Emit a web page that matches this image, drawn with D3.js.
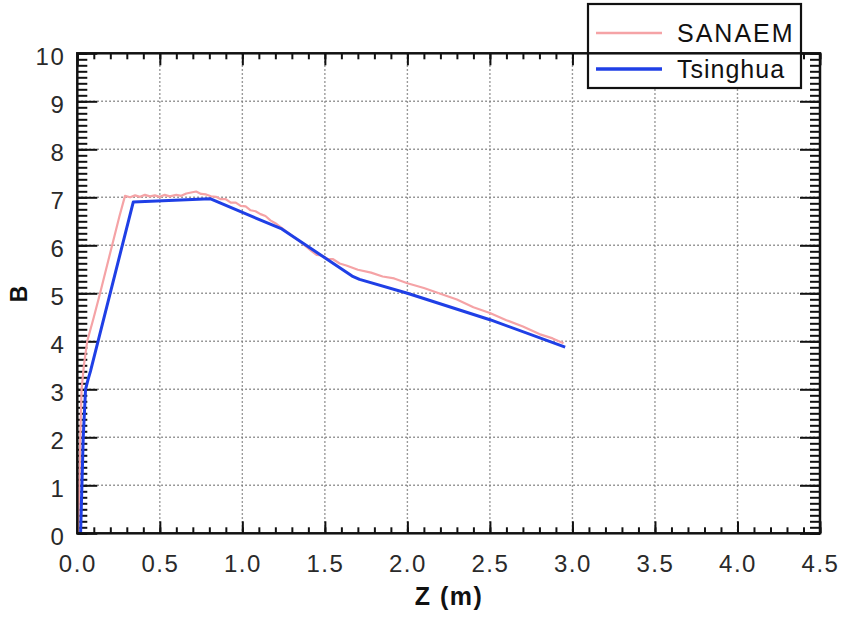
<!DOCTYPE html>
<html>
<head>
<meta charset="utf-8">
<script src="https://cdn.jsdelivr.net/npm/d3@7"></script>
<style>
  body { margin: 0; background: #fff; }
  svg text { font-family: "Liberation Sans", Arial, sans-serif; }
</style>
</head>
<body>
<div id="chart"></div>
<script>
// SANAEM curve (noisy)
const sanaem = [
  [0.005, 0], [0.012, 1], [0.018, 2], [0.026, 3], [0.04, 3.5], [0.06, 4.0],
  [0.10, 4.5], [0.138, 5.0], [0.20, 5.85], [0.255, 6.6], [0.289, 7.03],
  [0.32, 7.0], [0.35, 7.04], [0.38, 7.01], [0.41, 7.05], [0.44, 7.02],
  [0.47, 7.04], [0.50, 7.01], [0.53, 7.05], [0.56, 7.02], [0.60, 7.05],
  [0.63, 7.03], [0.66, 7.08], [0.69, 7.10], [0.72, 7.12], [0.75, 7.07],
  [0.78, 7.06], [0.81, 7.02], [0.84, 7.01], [0.87, 6.96], [0.90, 6.96],
  [0.93, 6.89], [0.96, 6.89], [0.99, 6.82], [1.02, 6.81], [1.05, 6.73],
  [1.08, 6.71], [1.11, 6.65], [1.14, 6.61], [1.17, 6.52], [1.20, 6.46],
  [1.24, 6.36], [1.30, 6.20], [1.36, 6.05], [1.42, 5.88], [1.45, 5.80],
  [1.48, 5.79], [1.52, 5.71], [1.55, 5.71], [1.59, 5.62], [1.63, 5.58],
  [1.70, 5.49], [1.78, 5.43], [1.85, 5.35], [1.92, 5.31], [2.0, 5.21],
  [2.1, 5.11], [2.2, 4.99], [2.3, 4.87], [2.4, 4.71], [2.5, 4.59],
  [2.6, 4.44], [2.7, 4.31], [2.8, 4.15], [2.88, 4.06], [2.946, 3.96]
];

// Tsinghua curve
const tsinghua = [
  [0.02, 0], [0.028, 1], [0.036, 2], [0.05, 3], [0.065, 3.2], [0.08, 3.38],
  [0.339, 6.9], [0.804, 6.97], [1.239, 6.34], [1.665, 5.36], [1.71, 5.29],
  [2.0, 5.0], [2.5, 4.45], [2.956, 3.88]
];

const seriesNames = ["SANAEM", "Tsinghua"];
const seriesColors = ["#f5a3a6", "#1f3fe6"];

const xTicks = [0, 0.5, 1, 1.5, 2, 2.5, 3, 3.5, 4, 4.5];
const yTicks = [0, 1, 2, 3, 4, 5, 6, 7, 8, 9, 10];

const width = 846, height = 619;

const x = d3.scaleLinear().domain([0, 4.5]).range([77.3, 820]);
const y = d3.scaleLinear().domain([0, 10]).range([533.3, 53.3]);

const svg = d3.select("#chart").append("svg")
    .attr("width", width)
    .attr("height", height);

// gridlines
const grid = svg.append("g");
grid.selectAll(".gx")
    .data(xTicks.slice(1, -1))
    .enter().append("line")
    .attr("x1", d => x(d)).attr("x2", d => x(d))
    .attr("y1", y(10)).attr("y2", y(0))
    .attr("stroke", "#7a7a7a").attr("stroke-width", 1.4)
    .attr("stroke-dasharray", "1.5,2.5");
grid.selectAll(".gy")
    .data(yTicks.slice(1, -1))
    .enter().append("line")
    .attr("x1", x(0)).attr("x2", x(4.5))
    .attr("y1", d => y(d)).attr("y2", d => y(d))
    .attr("stroke", "#7a7a7a").attr("stroke-width", 1.4)
    .attr("stroke-dasharray", "1.5,2.5");

// minor tick values
const xMinor = d3.range(0, 45.5, 1).map(d => d / 10);
const yMinor = d3.range(0, 80.5, 1).map(d => d / 8);

function styleAxis(g) {
    g.select(".domain").remove();
    g.selectAll(".tick line").attr("stroke", "#111").attr("stroke-width", 2);
    g.selectAll(".tick text")
        .attr("fill", "#2a2a2a")
        .style("font-size", "24px")
        .style("letter-spacing", "1.5px");
}

// bottom
svg.append("g").attr("transform", `translate(0,${y(0)})`)
    .call(d3.axisBottom(x).tickValues(xMinor).tickSize(-6).tickFormat(""))
    .call(styleAxis);
svg.append("g").attr("transform", `translate(0,${y(0)})`)
    .call(d3.axisBottom(x).tickValues(xTicks).tickSize(-12).tickPadding(22)
        .tickFormat(d3.format(".1f")))
    .call(styleAxis);
// top
svg.append("g").attr("transform", `translate(0,${y(10)})`)
    .call(d3.axisTop(x).tickValues(xMinor).tickSize(-6).tickFormat(""))
    .call(styleAxis);
svg.append("g").attr("transform", `translate(0,${y(10)})`)
    .call(d3.axisTop(x).tickValues(xTicks).tickSize(-12).tickFormat(""))
    .call(styleAxis);
// left
svg.append("g").attr("transform", `translate(${x(0)},0)`)
    .call(d3.axisLeft(y).tickValues(yMinor).tickSize(-10).tickFormat(""))
    .call(styleAxis);
svg.append("g").attr("transform", `translate(${x(0)},0)`)
    .call(d3.axisLeft(y).tickValues(yTicks).tickSize(-20).tickPadding(12)
        .tickFormat(d3.format("d")))
    .call(styleAxis)
    .selectAll(".tick text").attr("dy", "0.45em");
// right
svg.append("g").attr("transform", `translate(${x(4.5)},0)`)
    .call(d3.axisRight(y).tickValues(yMinor).tickSize(-10).tickFormat(""))
    .call(styleAxis);
svg.append("g").attr("transform", `translate(${x(4.5)},0)`)
    .call(d3.axisRight(y).tickValues(yTicks).tickSize(-20).tickFormat(""))
    .call(styleAxis);

// data lines
const line = d3.line().x(d => x(d[0])).y(d => y(d[1]));
svg.append("path").datum(sanaem)
    .attr("d", line)
    .attr("fill", "none")
    .attr("stroke", seriesColors[0])
    .attr("stroke-width", 2.2)
    .attr("stroke-linejoin", "round");
svg.append("path").datum(tsinghua)
    .attr("d", line)
    .attr("fill", "none")
    .attr("stroke", seriesColors[1])
    .attr("stroke-width", 3)
    .attr("stroke-linejoin", "round");

// legend
const legend = svg.append("g");
legend.append("rect")
    .attr("x", 588).attr("y", 4).attr("width", 213).attr("height", 84)
    .attr("fill", "#fff").attr("stroke", "#111").attr("stroke-width", 2.2);
seriesNames.forEach((name, i) => {
    const ly = 33 + i * 36;
    legend.append("line")
        .attr("x1", 596).attr("x2", 662)
        .attr("y1", ly).attr("y2", ly)
        .attr("stroke", seriesColors[i])
        .attr("stroke-width", i === 0 ? 2.5 : 3.5);
    legend.append("text")
        .attr("x", 677).attr("y", ly + 9)
        .attr("fill", "#111")
        .style("font-size", "25px")
        .style("letter-spacing", i === 0 ? "2px" : "1px")
        .text(name);
});

// frame (drawn last so the top edge crosses the legend like in the original)
svg.append("rect")
    .attr("x", x(0)).attr("y", y(10))
    .attr("width", x(4.5) - x(0)).attr("height", y(0) - y(10))
    .attr("fill", "none").attr("stroke", "#111").attr("stroke-width", 2.5);

// axis titles
svg.append("text")
    .attr("x", 449).attr("y", 605)
    .attr("text-anchor", "middle")
    .style("font-size", "25px").style("font-weight", "bold")
    .style("letter-spacing", "1.5px")
    .attr("fill", "#111")
    .text("Z (m)");
svg.append("text")
    .attr("transform", "translate(27,294) rotate(-90)")
    .attr("text-anchor", "middle")
    .style("font-size", "23px").style("font-weight", "bold")
    .attr("fill", "#111")
    .text("B");
</script>
</body>
</html>
